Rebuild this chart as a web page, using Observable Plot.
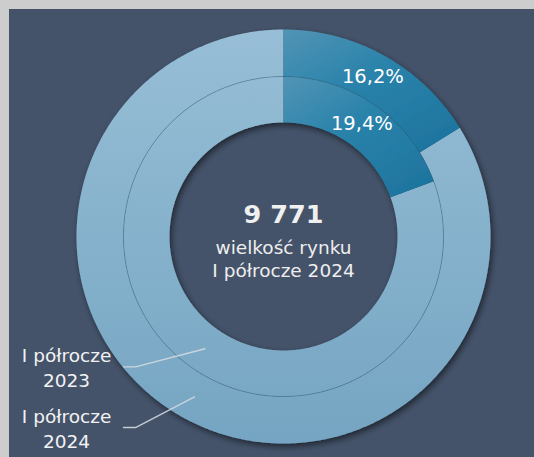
<!DOCTYPE html>
<html><head><meta charset="utf-8">
<script src="https://cdn.jsdelivr.net/npm/d3@7"></script>
<script src="https://cdn.jsdelivr.net/npm/@observablehq/plot@0.6"></script>
<style>
html,body{margin:0;padding:0;background:#cdcdcd;width:534px;height:457px;overflow:hidden}
#chart{position:absolute;left:9px;top:9px;width:525px;height:448px;background:#44536a}
</style></head><body><div id="chart"></div>
<script>
// ---- DATA ----
const rings = ["I półrocze 2023", "I półrocze 2024"];          // inner ring, outer ring
const highlightShare = [19.4, 16.2];                            // highlighted share, %
const shareLabels = ["19,4%", "16,2%"];
const marketSize = "9 771";
const centerLines = ["wielkość rynku", "I półrocze 2024"];
const ringLabels = ["I półrocze\n2023", "I półrocze\n2024"];

// ---- LAYOUT ----
const W = 525, H = 448, R = 207, CX = 274, CY = 227;
const ringRadii = [[114 / 207, 160 / 207], [160 / 207, 1]];      // fraction of outer radius
const layout = {
  leaderAngle: [215, 209],     // degrees clockwise from top, where leader touches ring
  labelY: [-0.630, -0.923],
  elbowX: -0.715, endX: -0.773, labelX: -1.048
};
const font = "DejaVu Sans";

const pol = (r, a) => ({x: r * Math.sin(a * Math.PI / 180), y: r * Math.cos(a * Math.PI / 180)});

function slice(r0, r1, a0, a1, id) {
  const n = Math.max(2, Math.ceil((a1 - a0) / 0.5));
  const pts = [];
  for (let k = 0; k <= n; k++) pts.push({...pol(r1, a0 + (a1 - a0) * k / n), id});
  for (let k = n; k >= 0; k--) pts.push({...pol(r0, a0 + (a1 - a0) * k / n), id});
  return pts;
}

const lightPts = [], darkPts = [], pctLabels = [];
rings.forEach((ring, i) => {
  const [r0, r1] = ringRadii[i];
  const a = highlightShare[i] * 3.6;
  lightPts.push(...slice(r0, r1, a, 360, ring + "-rest"));
  darkPts.push(...slice(r0, r1, 0, a, ring + "-share"));
  pctLabels.push({...pol((r0 + r1) / 2, a / 2), text: shareLabels[i]});
});

const divider = d3.range(0, 361, 1).map(a => pol(ringRadii[0][1], a));

const leaders = [], legend = [];
rings.forEach((ring, i) => {
  const [r0, r1] = ringRadii[i];
  const p = pol((r0 + r1) / 2, layout.leaderAngle[i]);
  leaders.push({...p, id: ring});
  leaders.push({x: layout.elbowX, y: layout.labelY[i], id: ring});
  leaders.push({x: layout.endX, y: layout.labelY[i], id: ring});
  legend.push({x: layout.labelX, y: layout.labelY[i], text: ringLabels[i]});
});

const plot = Plot.plot({
  width: W, height: H,
  marginLeft: CX - R, marginRight: W - (CX + R),
  marginTop: CY - R, marginBottom: H - (CY + R),
  x: {domain: [-1, 1], axis: null},
  y: {domain: [-1, 1], axis: null},
  style: {background: "transparent", overflow: "visible"},
  marks: [
    Plot.line(lightPts, {x: "x", y: "y", z: "id", fill: "#8ab4ce", stroke: "none", curve: "linear"}),
    Plot.line(darkPts, {x: "x", y: "y", z: "id", fill: "#2a83ab", stroke: "none", curve: "linear"}),
    Plot.line(divider, {x: "x", y: "y", stroke: "#2c5c7e", strokeOpacity: 0.5, strokeWidth: 0.8}),
    Plot.line(leaders, {x: "x", y: "y", z: "id", stroke: "#d3d9df", strokeWidth: 1.4, strokeOpacity: 0.9, curve: "linear"}),
    Plot.text(pctLabels, {x: "x", y: "y", text: "text", fill: "#ffffff", fontSize: 19.5, fontFamily: font}),
    Plot.text([marketSize], {x: 0, y: 0, dy: -22, fill: "#f0f0f0", fontSize: 25.5, fontWeight: "bold", fontFamily: font}),
    Plot.text([centerLines.join("\n")], {x: 0, y: 0, dy: 22, lineHeight: 1.22, fill: "#eeeeee", fontSize: 18.5, fontFamily: font}),
    Plot.text(legend, {x: "x", y: "y", text: "text", lineHeight: 1.33, fill: "#f2f2f2", fontSize: 18.5, fontFamily: font})
  ]
});

const svg = d3.select(plot);
const defs = svg.insert("defs", ":first-child");
const gl = defs.append("linearGradient").attr("id", "gLight").attr("gradientUnits", "userSpaceOnUse")
  .attr("x1", CX).attr("y1", CY - R).attr("x2", CX).attr("y2", CY + R);
gl.append("stop").attr("offset", 0).attr("stop-color", "#97bed6");
gl.append("stop").attr("offset", 1).attr("stop-color", "#75a5c2");
const gd = defs.append("linearGradient").attr("id", "gDark").attr("x1", 0).attr("y1", 0).attr("x2", 0.8).attr("y2", 1);
gd.append("stop").attr("offset", 0).attr("stop-color", "#5294b5");
gd.append("stop").attr("offset", 0.45).attr("stop-color", "#2a83ab");
gd.append("stop").attr("offset", 1).attr("stop-color", "#1e759f");
const f = defs.append("filter").attr("id", "shadow").attr("filterUnits", "userSpaceOnUse")
  .attr("x", 0).attr("y", 0).attr("width", W).attr("height", H);
f.append("feGaussianBlur").attr("in", "SourceAlpha").attr("stdDeviation", 3).attr("result", "b");
f.append("feOffset").attr("in", "b").attr("dx", 2).attr("dy", 3).attr("result", "o");
f.append("feComponentTransfer").attr("in", "o").attr("result", "s")
  .append("feFuncA").attr("type", "linear").attr("slope", 0.55);
const fm = f.append("feMerge");
fm.append("feMergeNode").attr("in", "s");
fm.append("feMergeNode").attr("in", "SourceGraphic");

// first two line marks are the ring layers
const lineGroups = plot.querySelectorAll('g[aria-label="line"]');
const gLightNode = lineGroups[0], gDarkNode = lineGroups[1];
if (gLightNode && gDarkNode) {
  gLightNode.setAttribute("fill", "url(#gLight)");
  gDarkNode.setAttribute("fill", "url(#gDark)");
  gLightNode.querySelectorAll("path").forEach(p => p.setAttribute("fill", "url(#gLight)"));
  gDarkNode.querySelectorAll("path").forEach(p => p.setAttribute("fill", "url(#gDark)"));
  const wrap = document.createElementNS("http://www.w3.org/2000/svg", "g");
  wrap.setAttribute("filter", "url(#shadow)");
  gLightNode.parentNode.insertBefore(wrap, gLightNode);
  wrap.appendChild(gLightNode);
  wrap.appendChild(gDarkNode);
}

document.getElementById("chart").appendChild(plot);
</script></body></html>
